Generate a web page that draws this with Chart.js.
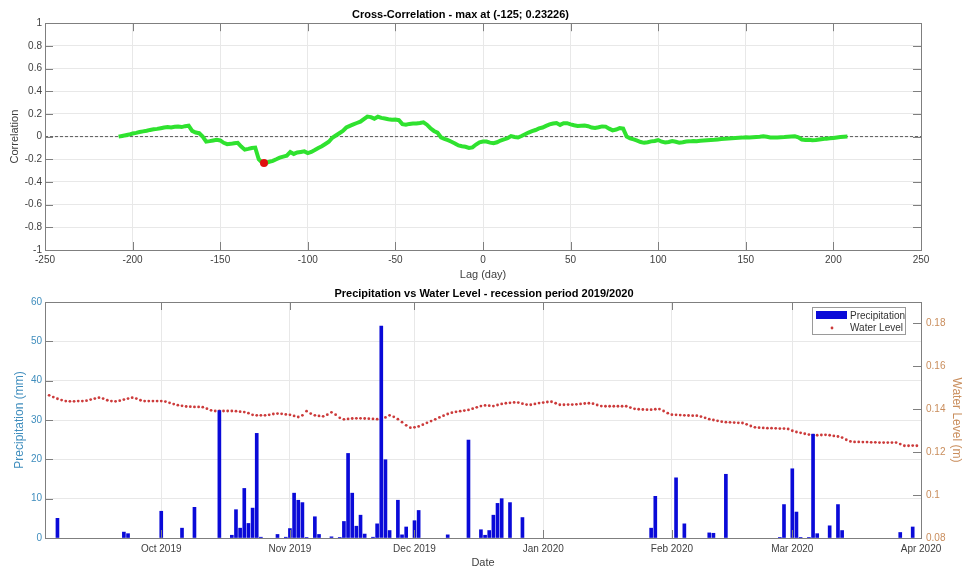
<!DOCTYPE html>
<html>
<head>
<meta charset="utf-8">
<script src="https://cdn.jsdelivr.net/npm/chart.js@4.4.1/dist/chart.umd.min.js"></script>
<style>
  html, body { margin: 0; padding: 0; background: #fff; }
  #wrap { position: relative; width: 968px; height: 570px; }
  canvas { position: absolute; left: 0; }
  #xcorr { top: 0; }
  #precip { top: 283px; }
</style>
</head>
<body>
<div id="wrap">
  <canvas id="xcorr" width="968" height="283"></canvas>
  <canvas id="precip" width="968" height="287"></canvas>
</div>
<script>
// cross-correlation, lag in days
const LAG_START = -208;
const LAG_STEP = 2;
const CORR = [
  0.000, 0.006, 0.012, 0.018, 0.027, 0.033, 0.040, 0.046, 0.052, 0.059,
  0.064, 0.068, 0.074, 0.080, 0.084, 0.080, 0.086, 0.088, 0.084, 0.092,
  0.097, 0.050, 0.036, 0.030, 0.000, -0.044, -0.040, -0.034, -0.029, -0.034,
  -0.055, -0.067, -0.064, -0.058, -0.055, -0.088, -0.115, -0.108, -0.100, -0.097,
  -0.200, -0.230, -0.232, -0.222, -0.214, -0.200, -0.185, -0.176, -0.168, -0.135,
  -0.153, -0.140, -0.135, -0.130, -0.145, -0.135, -0.118, -0.100, -0.085, -0.065,
  -0.045, -0.010, 0.010, 0.030, 0.050, 0.080, 0.095, 0.108, 0.120, 0.132,
  0.155, 0.177, 0.172, 0.158, 0.175, 0.165, 0.160, 0.153, 0.148, 0.150,
  0.145, 0.110, 0.105, 0.112, 0.116, 0.115, 0.120, 0.126, 0.105, 0.074,
  0.050, 0.035, -0.006, -0.020, -0.032, -0.045, -0.060, -0.078, -0.085, -0.090,
  -0.100, -0.095, -0.070, -0.050, -0.044, -0.044, -0.053, -0.058, -0.050, -0.035,
  -0.025, -0.015, 0.005, -0.003, -0.008, 0.005, 0.020, 0.036, 0.048, 0.058,
  0.072, 0.080, 0.095, 0.108, 0.115, 0.120, 0.103, 0.118, 0.118, 0.108,
  0.100, 0.094, 0.096, 0.098, 0.092, 0.080, 0.076, 0.082, 0.090, 0.088,
  0.070, 0.055, 0.062, 0.075, 0.070, 0.000, -0.015, -0.025, -0.035, -0.048,
  -0.055, -0.050, -0.042, -0.038, -0.030, -0.045, -0.052, -0.048, -0.040, -0.046,
  -0.054, -0.050, -0.044, -0.042, -0.038, -0.040, -0.036, -0.034, -0.032, -0.030,
  -0.028, -0.025, -0.022, -0.020, -0.017, -0.014, -0.012, -0.010, -0.009, -0.005,
  -0.008, -0.006, -0.004, -0.002, 0.002, -0.002, -0.008, -0.009, -0.007, -0.005,
  -0.004, -0.002, 0.000, 0.002, -0.006, -0.026, -0.030, -0.028, -0.032, -0.030,
  -0.026, -0.022, -0.018, -0.015, -0.012, -0.008, -0.004, -0.002, 0.000
];
const PEAK_LAG = [-125];
const PEAK_CORR = [-0.23226];
const ZERO_X = [-250, 250];
const ZERO_Y = [0, 0];

// days counted from 3 Sep 2019
const MONTH_DAYS = [28, 59, 89, 120, 151, 180, 211];
const MONTH_LABELS = ['Oct 2019', 'Nov 2019', 'Dec 2019', 'Jan 2020', 'Feb 2020', 'Mar 2020', 'Apr 2020'];

const PRECIP_DAY = [
  3, 19, 20, 28, 33, 36, 42, 45, 46, 47, 48, 49, 50, 51, 52, 56, 58, 59, 60, 61,
  62, 63, 65, 66, 69, 71, 72, 73, 74, 75, 76, 77, 79, 80, 81, 82, 83, 85, 86, 87,
  89, 90, 97, 102, 105, 106, 107, 108, 109, 110, 112, 115, 146, 147, 152, 154, 160, 161, 164, 177,
  178, 180, 181, 182, 184, 185, 186, 189, 191, 192, 206, 209
];
const PRECIP_MM = [
  5.0, 1.5, 1.1, 6.8, 2.5, 7.8, 32.4, 0.7, 7.2, 2.5, 12.6, 3.7, 7.6, 26.6, 0.2, 0.9, 0.2, 2.4, 11.4, 9.6,
  9.0, 0.1, 5.4, 0.9, 0.3, 0.1, 4.2, 21.5, 11.4, 3.0, 5.8, 1.0, 0.2, 3.6, 53.9, 19.9, 1.9, 9.6, 0.8, 2.8,
  4.4, 7.0, 0.8, 24.9, 2.1, 0.7, 1.9, 5.8, 8.8, 10.0, 9.0, 5.2, 2.5, 10.6, 15.3, 3.6, 1.3, 1.2, 16.2, 0.1,
  8.5, 17.6, 6.6, 0.1, 0.1, 26.4, 1.1, 3.1, 8.5, 1.9, 1.4, 2.8
];

const WL_FIRST_DAY = 1;
const WATER_LEVEL = [
  0.1465, 0.1457, 0.1449, 0.1443, 0.1438, 0.1437, 0.1437, 0.1438, 0.1438, 0.1440,
  0.1445, 0.1450, 0.1454, 0.1450, 0.1442, 0.1438, 0.1437, 0.1440, 0.1445, 0.1450,
  0.1454, 0.1450, 0.1442, 0.1438, 0.1438, 0.1438, 0.1438, 0.1438, 0.1436, 0.1430,
  0.1424, 0.1419, 0.1416, 0.1413, 0.1412, 0.1411, 0.1411, 0.1410, 0.1403, 0.1395,
  0.1392, 0.1392, 0.1392, 0.1392, 0.1392, 0.1391, 0.1389, 0.1387, 0.1382, 0.1374,
  0.1372, 0.1372, 0.1372, 0.1374, 0.1378, 0.1380, 0.1379, 0.1376, 0.1374, 0.1369,
  0.1364, 0.1372, 0.1391, 0.1380, 0.1372, 0.1369, 0.1367, 0.1375, 0.1386, 0.1375,
  0.1360, 0.1353, 0.1355, 0.1357, 0.1358, 0.1358, 0.1357, 0.1356, 0.1355, 0.1354,
  0.1353, 0.1362, 0.1372, 0.1365, 0.1354, 0.1340, 0.1325, 0.1314, 0.1316, 0.1320,
  0.1328, 0.1337, 0.1345, 0.1353, 0.1362, 0.1370, 0.1378, 0.1384, 0.1388, 0.1391,
  0.1394, 0.1397, 0.1403, 0.1409, 0.1415, 0.1418, 0.1417, 0.1415, 0.1420, 0.1425,
  0.1428, 0.1430, 0.1432, 0.1431, 0.1426, 0.1422, 0.1421, 0.1425, 0.1429, 0.1431,
  0.1434, 0.1435, 0.1428, 0.1421, 0.1421, 0.1422, 0.1422, 0.1423, 0.1425, 0.1427,
  0.1428, 0.1426, 0.1420, 0.1415, 0.1414, 0.1414, 0.1414, 0.1414, 0.1414, 0.1414,
  0.1408, 0.1402, 0.1400, 0.1399, 0.1398, 0.1398, 0.1400, 0.1401, 0.1392, 0.1382,
  0.1375, 0.1374, 0.1373, 0.1372, 0.1371, 0.1370, 0.1370, 0.1366, 0.1360, 0.1354,
  0.1350, 0.1346, 0.1342, 0.1340, 0.1339, 0.1338, 0.1337, 0.1336, 0.1330, 0.1322,
  0.1316, 0.1314, 0.1313, 0.1312, 0.1312, 0.1311, 0.1310, 0.1310, 0.1308, 0.1300,
  0.1294, 0.1290, 0.1286, 0.1282, 0.1279, 0.1279, 0.1280, 0.1281, 0.1279, 0.1276,
  0.1273, 0.1268, 0.1258, 0.1250, 0.1248, 0.1248, 0.1247, 0.1247, 0.1246, 0.1246,
  0.1245, 0.1245, 0.1245, 0.1245, 0.1245, 0.1238, 0.1230, 0.1230, 0.1231, 0.1230
];
const WL_TICKS = [0.08, 0.1, 0.12, 0.14, 0.16, 0.18];

const FONT = '"Liberation Sans", Arial, sans-serif';
const GRID = '#e8e8e8';
const AXIS = '#7f7f7f';
const LEFT_COLOR = '#3f8dbd';
const RIGHT_COLOR = '#c98d5c';

Chart.defaults.font.family = FONT;
Chart.defaults.font.size = 10;
Chart.defaults.color = '#404040';
Chart.defaults.animation = false;
Chart.defaults.responsive = false;
Chart.defaults.devicePixelRatio = 1;
Chart.defaults.plugins.legend.display = false;
Chart.defaults.plugins.tooltip.enabled = false;

// matlab style box with inward ticks
const axesBox = {
  id: 'axesBox',
  afterDraw(chart, args, opts) {
    const {ctx, chartArea: a, scales} = chart;
    const len = 8;
    ctx.save();
    ctx.strokeStyle = AXIS;
    ctx.lineWidth = 1;
    ctx.strokeRect(Math.round(a.left) + 0.5, Math.round(a.top) + 0.5,
      Math.round(a.right - a.left), Math.round(a.bottom - a.top));
    ctx.beginPath();
    scales.x.ticks.forEach((t) => {
      const px = Math.round(scales.x.getPixelForValue(t.value)) + 0.5;
      ctx.moveTo(px, a.bottom); ctx.lineTo(px, a.bottom - len);
      ctx.moveTo(px, a.top); ctx.lineTo(px, a.top + len);
    });
    opts.yAxes.forEach(([id, sides]) => {
      const s = scales[id];
      s.ticks.forEach((t) => {
        const py = Math.round(s.getPixelForValue(t.value)) + 0.5;
        if (sides.includes('left')) { ctx.moveTo(a.left, py); ctx.lineTo(a.left + len, py); }
        if (sides.includes('right')) { ctx.moveTo(a.right, py); ctx.lineTo(a.right - len, py); }
      });
    });
    ctx.stroke();
    ctx.restore();
  }
};

const insideLegend = {
  id: 'insideLegend',
  afterDraw(chart) {
    const {ctx, chartArea: a} = chart;
    const [bars, level] = chart.data.datasets;
    const w = 93, h = 27;
    const x = Math.round(a.right) - 16 - w;
    const y = Math.round(a.top) + 5;
    ctx.save();
    ctx.fillStyle = '#fff';
    ctx.fillRect(x, y, w, h);
    ctx.strokeStyle = '#9a9a9a';
    ctx.lineWidth = 1;
    ctx.strokeRect(x + 0.5, y + 0.5, w, h);
    ctx.font = '10px ' + FONT;
    ctx.textBaseline = 'middle';
    ctx.fillStyle = bars.backgroundColor;
    ctx.fillRect(x + 4, y + 4, 31, 8);
    ctx.fillStyle = '#333';
    ctx.fillText(bars.label, x + 38, y + 9);
    ctx.fillStyle = level.pointBackgroundColor;
    ctx.beginPath();
    ctx.arc(x + 20, y + 21, 1.4, 0, 2 * Math.PI);
    ctx.fill();
    ctx.fillStyle = '#333';
    ctx.fillText(level.label, x + 38, y + 21);
    ctx.restore();
  }
};

const corrPoints = CORR.map((v, i) => ({x: LAG_START + i * LAG_STEP, y: v}));

new Chart(document.getElementById('xcorr'), {
  type: 'line',
  plugins: [axesBox],
  data: {
    datasets: [
      {
        data: PEAK_LAG.map((v, i) => ({x: v, y: PEAK_CORR[i]})),
        showLine: false,
        pointRadius: 4,
        pointBackgroundColor: '#e01010',
        pointBorderWidth: 0,
        order: 0
      },
      {
        data: corrPoints,
        borderColor: '#2fe22f',
        borderWidth: 4,
        pointRadius: 0,
        tension: 0,
        order: 1
      },
      {
        data: ZERO_X.map((v, i) => ({x: v, y: ZERO_Y[i]})),
        borderColor: '#5a5a5a',
        borderWidth: 1,
        borderDash: [3, 2],
        pointRadius: 0,
        order: 2
      }
    ]
  },
  options: {
    layout: {padding: {left: 0, right: 47, top: 0, bottom: 0}},
    plugins: {
      title: {
        display: true,
        text: 'Cross-Correlation - max at (-125; 0.23226)',
        color: '#000',
        font: {size: 11, weight: 'bold'},
        padding: {top: 8, bottom: 2}
      },
      axesBox: {yAxes: [['y', ['left', 'right']]]}
    },
    scales: {
      x: {
        type: 'linear',
        min: -250,
        max: 250,
        ticks: {stepSize: 50, padding: 4},
        grid: {color: GRID, drawTicks: false},
        border: {display: false},
        title: {display: true, text: 'Lag (day)', font: {size: 11}, padding: {top: 0, bottom: 1}},
        afterFit: (s) => { s.height = 33; }
      },
      y: {
        min: -1,
        max: 1,
        ticks: {stepSize: 0.2, padding: 3, callback: (v) => String(+v.toFixed(1))},
        grid: {color: GRID, drawTicks: false},
        border: {display: false},
        title: {display: true, text: 'Correlation', font: {size: 11}, padding: {top: 8, bottom: 0}},
        afterFit: (s) => { s.width = 45; }
      }
    }
  }
});

new Chart(document.getElementById('precip'), {
  type: 'bar',
  plugins: [axesBox, insideLegend],
  data: {
    datasets: [
      {
        label: 'Precipitation',
        data: PRECIP_DAY.map((d, i) => ({x: d, y: PRECIP_MM[i]})),
        backgroundColor: '#0a0ad8',
        barThickness: 3,
        yAxisID: 'y'
      },
      {
        type: 'line',
        label: 'Water Level',
        data: WATER_LEVEL.map((v, i) => ({x: WL_FIRST_DAY + i, y: v})),
        showLine: false,
        pointRadius: 1.4,
        pointBorderWidth: 0,
        pointBackgroundColor: '#cc3a3a',
        yAxisID: 'y2'
      }
    ]
  },
  options: {
    layout: {padding: 0},
    plugins: {
      title: {
        display: true,
        text: 'Precipitation vs Water Level - recession period 2019/2020',
        color: '#000',
        font: {size: 11, weight: 'bold'},
        padding: {top: 4, bottom: 1.8}
      },
      axesBox: {yAxes: [['y', ['left']], ['y2', ['right']]]}
    },
    scales: {
      x: {
        type: 'linear',
        min: 0,
        max: 211,
        offset: false,
        afterBuildTicks: (s) => { s.ticks = MONTH_DAYS.map((d) => ({value: d})); },
        ticks: {
          padding: 5,
          autoSkip: false,
          maxRotation: 0,
          callback: (v) => MONTH_LABELS[MONTH_DAYS.indexOf(v)]
        },
        grid: {color: GRID, drawTicks: false, offset: false},
        border: {display: false},
        title: {display: true, text: 'Date', font: {size: 11}, padding: {top: 0, bottom: 0}},
        afterFit: (s) => { s.height = 32; }
      },
      y: {
        position: 'left',
        min: 0,
        max: 60,
        ticks: {stepSize: 10, padding: 3, color: LEFT_COLOR},
        grid: {color: GRID, drawTicks: false},
        border: {display: false},
        title: {display: true, text: 'Precipitation (mm)', color: LEFT_COLOR, font: {size: 12}, padding: {top: 12, bottom: 0}},
        afterFit: (s) => { s.width = 45; }
      },
      y2: {
        position: 'right',
        min: 0.08,
        max: 0.19,
        afterBuildTicks: (s) => { s.ticks = WL_TICKS.map((v) => ({value: v})); },
        ticks: {padding: 5, color: RIGHT_COLOR, callback: (v) => String(+v.toFixed(2))},
        grid: {display: false, drawTicks: false},
        border: {display: false},
        title: {display: true, text: 'Water Level (m)', color: RIGHT_COLOR, font: {size: 12}, padding: {top: 4, bottom: 0}},
        afterFit: (s) => { s.width = 47; }
      }
    }
  }
});
</script>
</body>
</html>
